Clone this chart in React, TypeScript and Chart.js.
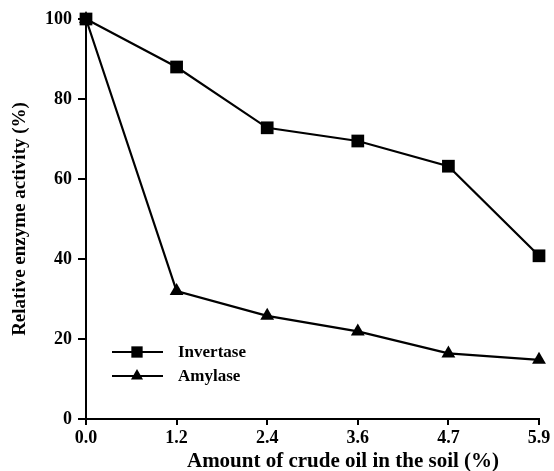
import React, { useEffect, useRef } from "react";
import { Chart, registerables } from "chart.js";

Chart.register(...registerables);

const categories = ["0.0", "1.2", "2.4", "3.6", "4.7", "5.9"];
const invertase = [100, 88, 72.8, 69.5, 63.2, 40.8];
const amylase = [100, 32, 25.8, 21.9, 16.4, 14.8];
const yTicks = [0, 20, 40, 60, 80, 100];
const xTitle = "Amount of crude oil in the soil (%)";
const yTitle = "Relative enzyme activity (%)";

const FONT = "'Liberation Serif', 'Times New Roman', serif";

function drawMarker(ctx: CanvasRenderingContext2D, style: string, r: number, x: number, y: number) {
  ctx.beginPath();
  if (style === "rect") {
    const s = Math.SQRT1_2 * r;
    ctx.rect(x - s, y - s, 2 * s, 2 * s);
  } else {
    let rad = 0;
    ctx.moveTo(x + Math.sin(rad) * r, y - Math.cos(rad) * r);
    rad += (2 * Math.PI) / 3;
    ctx.lineTo(x + Math.sin(rad) * r, y - Math.cos(rad) * r);
    rad += (2 * Math.PI) / 3;
    ctx.lineTo(x + Math.sin(rad) * r, y - Math.cos(rad) * r);
    ctx.closePath();
  }
  ctx.fill();
}

const extras = {
  id: "extras",
  afterDraw(chart: any) {
    const ctx = chart.ctx;
    const items = [
      { label: chart.data.datasets[0].label, ds: chart.data.datasets[0], y: 352 },
      { label: chart.data.datasets[1].label, ds: chart.data.datasets[1], y: 376 },
    ];
    ctx.save();
    for (const it of items) {
      ctx.strokeStyle = "#000";
      ctx.lineWidth = 2;
      ctx.beginPath();
      ctx.moveTo(112, it.y);
      ctx.lineTo(163, it.y);
      ctx.stroke();
      ctx.fillStyle = "#000";
      drawMarker(ctx, it.ds.pointStyle, it.ds.pointRadius - 1, 137, it.y);
      ctx.font = `bold 17px ${FONT}`;
      ctx.textAlign = "left";
      ctx.textBaseline = "middle";
      ctx.fillText(it.label, 178, it.y + 1);
    }
    // x axis title
    ctx.font = `bold 21px ${FONT}`;
    ctx.textAlign = "center";
    ctx.textBaseline = "alphabetic";
    ctx.fillText(xTitle, 343, 467);
    ctx.restore();
  },
};

export default function App() {
  const ref = useRef<HTMLCanvasElement>(null);
  useEffect(() => {
    document.body.style.margin = "0";
    const chart = new Chart(ref.current!, {
      type: "line",
      data: {
        labels: categories,
        datasets: [
          {
            label: "Invertase",
            data: invertase,
            borderColor: "#000",
            backgroundColor: "#000",
            borderWidth: 2.2,
            pointStyle: "rect",
            pointRadius: 9,
            pointBorderWidth: 0,
            clip: false as any,
          },
          {
            label: "Amylase",
            data: amylase,
            borderColor: "#000",
            backgroundColor: "#000",
            borderWidth: 2.2,
            pointStyle: "triangle",
            pointRadius: 8,
            pointBorderWidth: 0,
            clip: false as any,
          },
        ],
      },
      options: {
        animation: false,
        responsive: false,
        layout: { padding: { top: 19, right: 15, left: 0, bottom: 0 } },
        plugins: { legend: { display: false }, tooltip: { enabled: false } },
        scales: {
          x: {
            type: "category",
            offset: false,
            grid: {
              display: true,
              drawOnChartArea: false,
              drawTicks: true,
              tickLength: 6,
              color: "#000",
              lineWidth: 2,
            },
            border: { display: true, color: "#000", width: 2 },
            ticks: {
              color: "#000",
              font: { family: FONT, size: 18, weight: "bold" },
              padding: 3,
              maxRotation: 0,
              autoSkip: false,
            },
            afterFit(scale: any) {
              scale.height = 52;
            },
          },
          y: {
            min: 0,
            max: 100,
            afterBuildTicks(scale: any) {
              scale.ticks = yTicks.map((v) => ({ value: v }));
            },
            grid: {
              display: true,
              drawOnChartArea: false,
              drawTicks: true,
              tickLength: 8,
              color: "#000",
              lineWidth: 2,
            },
            border: { display: true, color: "#000", width: 2 },
            ticks: {
              color: "#000",
              font: { family: FONT, size: 18, weight: "bold" },
              padding: 6,
            },
            title: {
              display: true,
              text: yTitle,
              color: "#000",
              font: { family: FONT, size: 19, weight: "bold" },
              padding: { top: 9, bottom: 0 },
            },
            afterFit(scale: any) {
              scale.width = 86;
            },
          },
        },
      },
      plugins: [extras],
    });
    return () => chart.destroy();
  }, []);
  return <canvas ref={ref} width={554} height={471} style={{ display: "block" }} />;
}
